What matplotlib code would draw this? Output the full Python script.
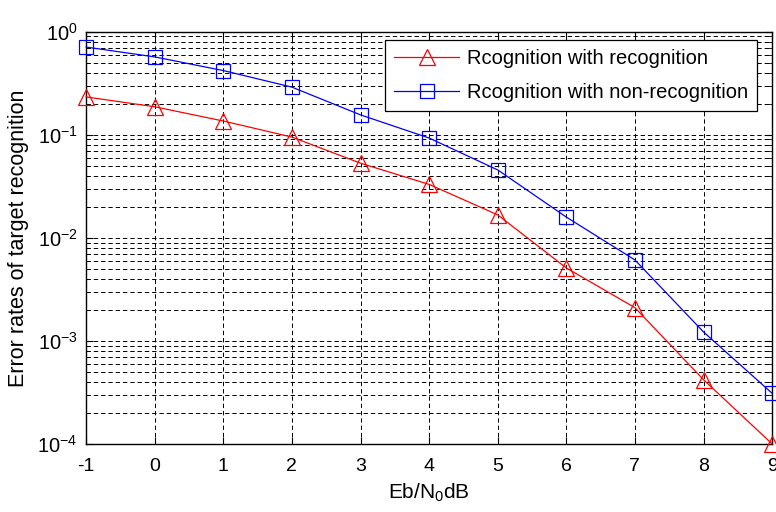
import matplotlib.pyplot as plt
from matplotlib.ticker import LogLocator, NullFormatter

plt.rcParams['font.family'] = ['Liberation Sans', 'DejaVu Sans']
plt.rcParams['axes.unicode_minus'] = False
plt.rcParams['mathtext.fontset'] = 'custom'
plt.rcParams['mathtext.rm'] = 'Liberation Sans'
plt.rcParams['mathtext.it'] = 'Liberation Sans'

# Data
ebn0 = [-1, 0, 1, 2, 3, 4, 5, 6, 7, 8, 9]
err_recog = [0.233, 0.187, 0.136, 0.095, 0.053, 0.033, 0.0167, 0.0051,
             0.0021, 0.00042, 0.0001]
err_nonrecog = [0.71, 0.57, 0.42, 0.29, 0.156, 0.093, 0.0456, 0.0159,
                0.0061, 0.00122, 0.00031]
labels = ['Rcognition with recognition', 'Rcognition with non-recognition']

fig = plt.figure(figsize=(7.76, 5.12), dpi=100)
ax = fig.add_axes([0.111, 0.133, 0.884, 0.805])

ax.semilogy(ebn0, err_recog, color='red', linewidth=0.9, marker='^',
            markersize=11, markerfacecolor='none', markeredgewidth=0.9,
            label=labels[0], clip_on=False, zorder=3)
ax.semilogy(ebn0, err_nonrecog, color='blue', linewidth=0.9, marker='s',
            markersize=10, markerfacecolor='none', markeredgewidth=0.9,
            label=labels[1], clip_on=False, zorder=3)

ax.set_xlim(-1, 9)
ax.set_ylim(1e-4, 1)
ax.set_xticks(range(-1, 10))
ax.yaxis.set_major_locator(LogLocator(base=10, numticks=10))
ax.yaxis.set_minor_locator(LogLocator(base=10, subs=range(2, 10), numticks=20))
ax.yaxis.set_minor_formatter(NullFormatter())

dash = (0, (4.5, 3))
ax.grid(True, which='major', axis='both', color='black', linestyle=dash,
        linewidth=0.7)
ax.grid(True, which='minor', axis='y', color='black', linestyle=dash,
        linewidth=0.7)

ax.tick_params(which='both', direction='in', top=True, right=True)
ax.tick_params(axis='x', which='major', length=5, labelsize=14, pad=10)
ax.tick_params(axis='y', which='major', length=5, labelsize=14.5, pad=6)
ax.tick_params(which='minor', length=3)
for s in ax.spines.values():
    s.set_linewidth(1.0)

ax.set_xlabel('Eb/N$_\\mathregular{0}$dB', fontsize=15, labelpad=5)
ax.set_ylabel('Error rates of target recognition', fontsize=15.5, labelpad=6)

leg = ax.legend(loc='upper right', fontsize=14.5, fancybox=False,
                framealpha=1, edgecolor='black', borderpad=0.45,
                labelspacing=0.75, handlelength=3.2, handletextpad=0.4,
                borderaxespad=0, bbox_to_anchor=(0.978, 0.98))
leg.get_frame().set_linewidth(0.9)

fig.savefig('out.png', dpi=100)
